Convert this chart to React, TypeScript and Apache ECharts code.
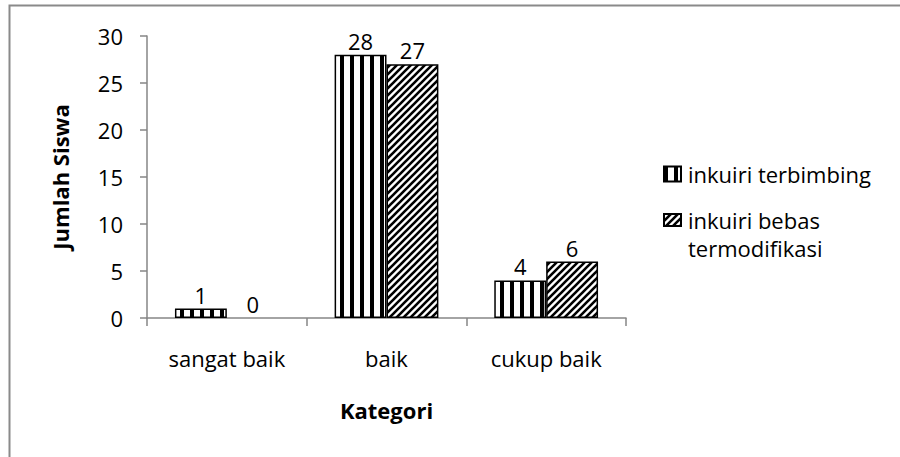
import React, { useEffect, useRef } from "react";
import * as echarts from "echarts";

const categories = ["sangat baik", "baik", "cukup baik"];
const seriesNames = ["inkuiri terbimbing", "inkuiri bebas termodifikasi"];
const terbimbing = [1, 28, 4];
const bebas = [0, 27, 6];
const yTicks = { min: 0, max: 30, interval: 5 };

const FONT = "'Open Sans', 'Noto Sans', sans-serif";
const FS = 22;

function stripePattern(): HTMLCanvasElement {
  const c = document.createElement("canvas");
  c.width = 10;
  c.height = 10;
  const ctx = c.getContext("2d")!;
  ctx.fillStyle = "#ffffff";
  ctx.fillRect(0, 0, 10, 10);
  ctx.fillStyle = "#000000";
  ctx.fillRect(0, 0, 4, 10);
  return c;
}

function hatchPattern(): HTMLCanvasElement {
  const c = document.createElement("canvas");
  const s = 7;
  c.width = s;
  c.height = s;
  const ctx = c.getContext("2d")!;
  ctx.fillStyle = "#ffffff";
  ctx.fillRect(0, 0, s, s);
  ctx.strokeStyle = "#000000";
  ctx.lineWidth = 2.6;
  ctx.beginPath();
  ctx.moveTo(-1, s + 1);
  ctx.lineTo(s + 1, -1);
  ctx.moveTo(-s / 2 - 1, s / 2 + 1);
  ctx.lineTo(s / 2 + 1, -s / 2 - 1);
  ctx.moveTo(s / 2 - 1, s * 1.5 + 1);
  ctx.lineTo(s * 1.5 + 1, s / 2 - 1);
  ctx.stroke();
  return c;
}

export default function App() {
  const ref = useRef<HTMLDivElement>(null);
  useEffect(() => {
    if (!ref.current) return;
    const chart = echarts.init(ref.current, undefined, { renderer: "svg" });
    const stripe = { image: stripePattern(), repeat: "repeat" } as any;
    const hatch = { image: hatchPattern(), repeat: "repeat" } as any;
    const labelStyle = {
      show: true,
      position: "top" as const,
      color: "#000",
      fontSize: FS,
      fontFamily: FONT,
      distance: 3,
    };
    const toItems = (vals: number[]) =>
      vals.map((v) => (v === 0 ? { value: v, itemStyle: { borderWidth: 0 } } : v));
    chart.setOption({
      animation: false,
      backgroundColor: "#ffffff",
      textStyle: { fontFamily: FONT },
      graphic: [
        {
          type: "rect",
          shape: { x: 9.5, y: 5.5, width: 1000, height: 1000 },
          style: { fill: "none", stroke: "#8a8a8a", lineWidth: 2 },
          silent: true,
        },
      ],
      grid: { left: 147, right: 274, top: 36, bottom: 139, containLabel: false },
      legend: [
        {
          data: [seriesNames[0]],
          orient: "vertical",
          left: 663,
          top: 163,
          padding: 0,
          itemWidth: 17,
          itemHeight: 15,
          icon: "rect",
          textStyle: { fontSize: FS, color: "#000", fontFamily: FONT, padding: [0, 0, 0, 2] },
          selectedMode: false,
        },
        {
          data: [seriesNames[1]],
          orient: "vertical",
          left: 663,
          top: 181,
          padding: 0,
          itemWidth: 17,
          itemHeight: 12,
          icon: "rect",
          formatter: () => "{s| }\n{t|inkuiri bebas}\n{t|termodifikasi}",
          textStyle: {
            fontSize: FS,
            color: "#000",
            fontFamily: FONT,
            padding: [0, 0, 0, 2],
            rich: {
              s: { fontSize: FS, lineHeight: 28, fontFamily: FONT },
              t: { fontSize: FS, lineHeight: 28, color: "#000", fontFamily: FONT },
            },
          },
          selectedMode: false,
        },
      ],
      xAxis: {
        type: "category",
        data: categories,
        name: "Kategori",
        nameLocation: "middle",
        nameGap: 81,
        nameTextStyle: { fontSize: FS, fontWeight: "bold", color: "#000", fontFamily: FONT },
        axisLine: { lineStyle: { color: "#868686", width: 1.5 } },
        axisTick: { show: true, length: 8, inside: false, alignWithLabel: false, lineStyle: { color: "#868686", width: 1.5 } },
        axisLabel: { fontSize: FS, color: "#000", margin: 29, fontFamily: FONT },
      },
      yAxis: {
        type: "value",
        min: yTicks.min,
        max: yTicks.max,
        interval: yTicks.interval,
        name: "Jumlah Siswa",
        nameLocation: "middle",
        nameGap: 76,
        nameTextStyle: { fontSize: FS, fontWeight: "bold", color: "#000", fontFamily: FONT },
        axisLine: { show: true, lineStyle: { color: "#868686", width: 1.5 } },
        axisTick: { show: true, length: 7, lineStyle: { color: "#868686", width: 1.5 } },
        splitLine: { show: false },
        axisLabel: { fontSize: FS, color: "#000", margin: 24, fontFamily: FONT },
      },
      series: [
        {
          name: seriesNames[0],
          type: "bar",
          data: toItems(terbimbing),
          barGap: "0%",
          barCategoryGap: "35%",
          itemStyle: { color: stripe, borderColor: "#000", borderWidth: 1.5 },
          label: labelStyle,
        },
        {
          name: seriesNames[1],
          type: "bar",
          data: toItems(bebas),
          barGap: "0%",
          barCategoryGap: "35%",
          itemStyle: { color: hatch, borderColor: "#000", borderWidth: 1.5 },
          label: labelStyle,
        },
      ],
    });
    return () => chart.dispose();
  }, []);
  return (
    <div
      ref={ref}
      style={{ position: "fixed", left: 0, top: 0, width: 900, height: 457, background: "#fff" }}
    />
  );
}
